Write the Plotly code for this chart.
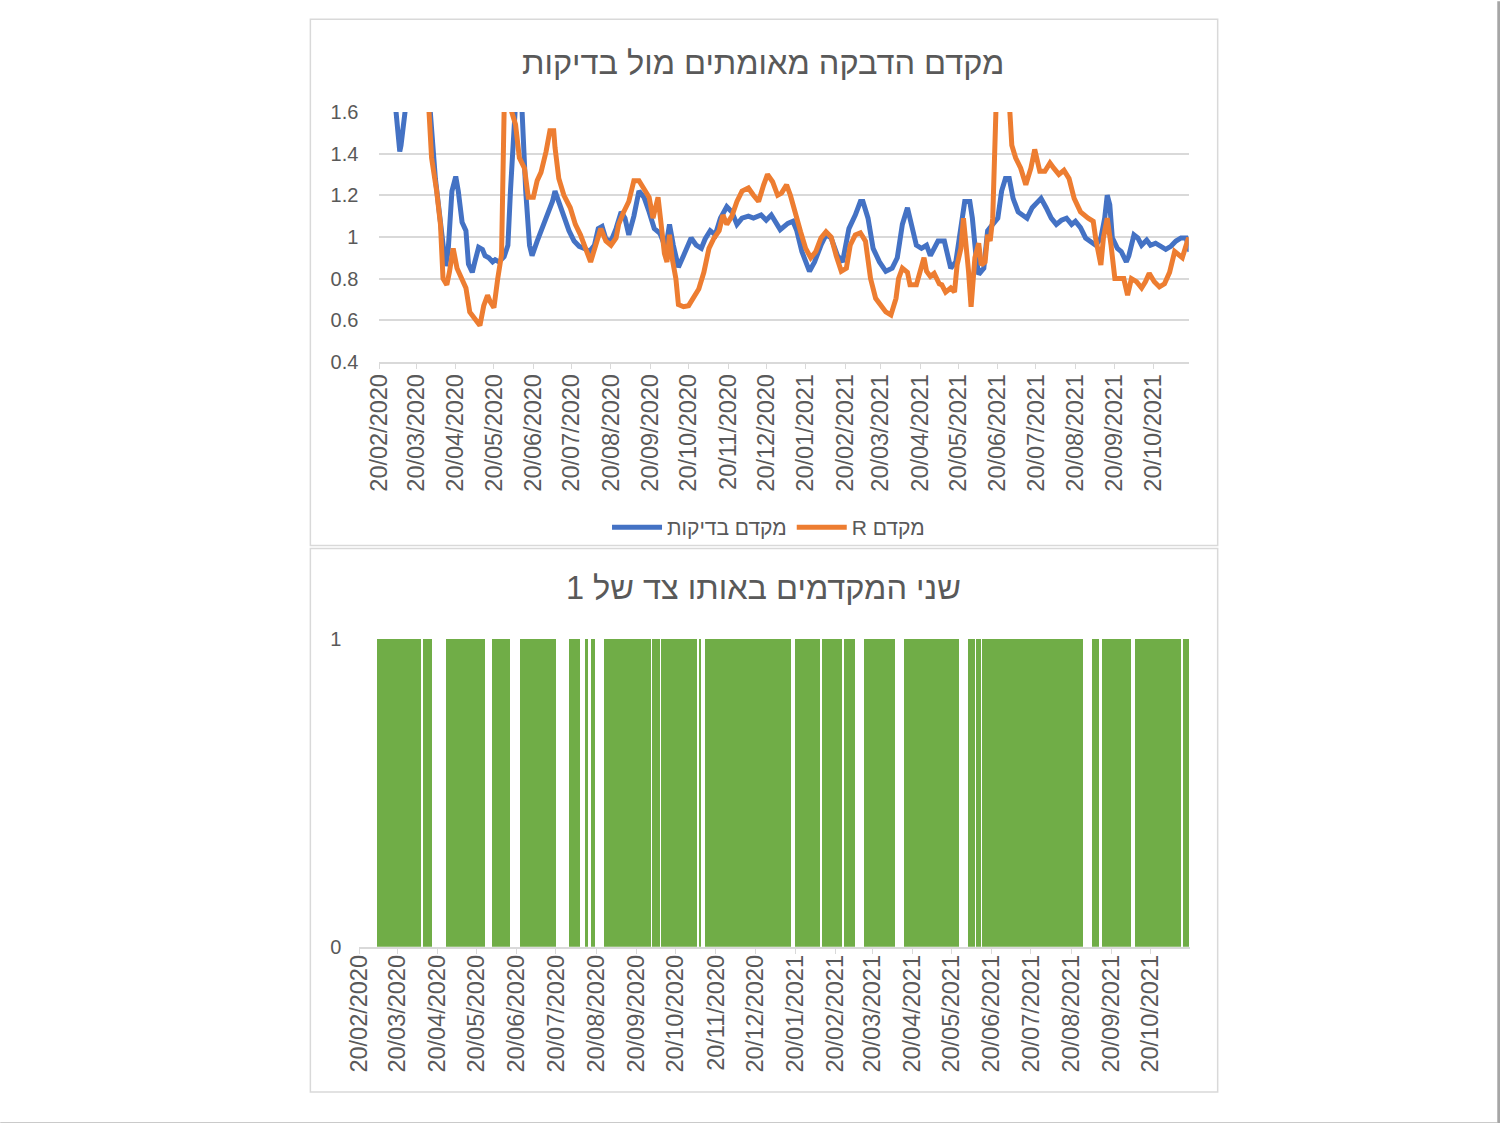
import plotly.graph_objects as go
from datetime import datetime

# ---------------- data ----------------
tests_dates = [
    "2020-03-01", "2020-03-03", "2020-03-07", "2020-03-08", "2020-03-11", "2020-03-14", "2020-03-21",
    "2020-03-27", "2020-03-31", "2020-04-04", "2020-04-08", "2020-04-12", "2020-04-14", "2020-04-17",
    "2020-04-20", "2020-04-22", "2020-04-25", "2020-04-28", "2020-04-30", "2020-05-03", "2020-05-05",
    "2020-05-08", "2020-05-11", "2020-05-13", "2020-05-16", "2020-05-19", "2020-05-21", "2020-05-24",
    "2020-05-28", "2020-05-31", "2020-06-02", "2020-06-05", "2020-06-08", "2020-06-11", "2020-06-14",
    "2020-06-17", "2020-06-19", "2020-06-23", "2020-06-27", "2020-07-01", "2020-07-05", "2020-07-07",
    "2020-07-10", "2020-07-14", "2020-07-18", "2020-07-22", "2020-07-26", "2020-07-30", "2020-08-03",
    "2020-08-07", "2020-08-10", "2020-08-13", "2020-08-16", "2020-08-20", "2020-08-24", "2020-08-28",
    "2020-08-31", "2020-09-03", "2020-09-07", "2020-09-11", "2020-09-15", "2020-09-19", "2020-09-23",
    "2020-09-27", "2020-09-28", "2020-10-02", "2020-10-05", "2020-10-08", "2020-10-12", "2020-10-16",
    "2020-10-22", "2020-10-26", "2020-10-30", "2020-11-02", "2020-11-06", "2020-11-10", "2020-11-14",
    "2020-11-19", "2020-11-23", "2020-11-27", "2020-12-01", "2020-12-06", "2020-12-10", "2020-12-16",
    "2020-12-20", "2020-12-24", "2020-12-28", "2020-12-31", "2021-01-06", "2021-01-10", "2021-01-13",
    "2021-01-17", "2021-01-23", "2021-01-27", "2021-02-01", "2021-02-05", "2021-02-09", "2021-02-14",
    "2021-02-18", "2021-02-23", "2021-02-28", "2021-03-04", "2021-03-06", "2021-03-10", "2021-03-14",
    "2021-03-19", "2021-03-24", "2021-03-29", "2021-04-02", "2021-04-06", "2021-04-10", "2021-04-12",
    "2021-04-17", "2021-04-21", "2021-04-25", "2021-04-28", "2021-05-04", "2021-05-09", "2021-05-14",
    "2021-05-18", "2021-05-22", "2021-05-25", "2021-05-29", "2021-05-31", "2021-06-03", "2021-06-05",
    "2021-06-09", "2021-06-12", "2021-06-16", "2021-06-20", "2021-06-23", "2021-06-26", "2021-06-29",
    "2021-07-02", "2021-07-06", "2021-07-10", "2021-07-13", "2021-07-17", "2021-07-21", "2021-07-24",
    "2021-07-28", "2021-08-01", "2021-08-05", "2021-08-09", "2021-08-13", "2021-08-17", "2021-08-20",
    "2021-08-24", "2021-08-28", "2021-09-01", "2021-09-05", "2021-09-09", "2021-09-12", "2021-09-14",
    "2021-09-16", "2021-09-18", "2021-09-22", "2021-09-25", "2021-09-29", "2021-10-01", "2021-10-05",
    "2021-10-08", "2021-10-11", "2021-10-15", "2021-10-18", "2021-10-22", "2021-10-26", "2021-10-30",
    "2021-11-03", "2021-11-07", "2021-11-11", "2021-11-15", "2021-11-18",
]
tests_values = [
    1.80, 1.66, 1.41, 1.44, 1.62, 1.95, 2.10,
    1.85, 1.60, 1.28, 1.09, 0.86, 0.93, 1.22,
    1.29, 1.22, 1.07, 1.03, 0.87, 0.83, 0.88,
    0.95, 0.94, 0.91, 0.90, 0.88, 0.89, 0.88,
    0.905, 0.96, 1.22, 1.65, 1.85, 1.62, 1.22,
    0.96, 0.91, 0.98, 1.04, 1.11, 1.17, 1.22,
    1.17, 1.09, 1.03, 0.98, 0.955, 0.945, 0.93,
    0.96, 1.04, 1.05, 0.99, 0.98, 1.04, 1.12,
    1.09, 1.01, 1.10, 1.22, 1.19, 1.12, 1.04,
    1.02, 1.01, 0.945, 1.06, 0.96, 0.855, 0.91,
    0.995, 0.96, 0.945, 0.99, 1.03, 1.01, 1.09,
    1.145, 1.12, 1.06, 1.09, 1.10, 1.09, 1.105,
    1.08, 1.105, 1.065, 1.035, 1.065, 1.075, 1.03,
    0.93, 0.835, 0.88, 0.96, 1.01, 0.995, 0.91,
    0.88, 1.04, 1.105, 1.17, 1.17, 1.09, 0.945,
    0.88, 0.835, 0.85, 0.90, 1.06, 1.14, 1.09,
    0.96, 0.945, 0.96, 0.91, 0.98, 0.98, 0.85,
    0.88, 1.03, 1.17, 1.17, 1.09, 0.90, 0.82,
    0.85, 1.03, 1.06, 1.09, 1.22, 1.28, 1.28,
    1.185, 1.12, 1.105, 1.09, 1.14, 1.17, 1.185,
    1.14, 1.09, 1.06, 1.08, 1.09, 1.06, 1.075,
    1.045, 0.995, 0.98, 0.96, 0.995, 1.09, 1.20,
    1.155, 0.995, 0.945, 0.93, 0.88, 0.91, 1.01,
    0.995, 0.96, 0.985, 0.96, 0.97, 0.955, 0.94,
    0.955, 0.98, 0.995, 0.995, 0.93,
]

r_dates = [
    "2020-03-05", "2020-03-11", "2020-03-19", "2020-03-26", "2020-03-30", "2020-04-01", "2020-04-05",
    "2020-04-08", "2020-04-10", "2020-04-13", "2020-04-15", "2020-04-18", "2020-04-21", "2020-04-24",
    "2020-04-28", "2020-05-01", "2020-05-05", "2020-05-09", "2020-05-12", "2020-05-15", "2020-05-17",
    "2020-05-20", "2020-05-23", "2020-05-26", "2020-05-28", "2020-05-31", "2020-06-03", "2020-06-06",
    "2020-06-09", "2020-06-13", "2020-06-16", "2020-06-20", "2020-06-23", "2020-06-26", "2020-06-30",
    "2020-07-03", "2020-07-06", "2020-07-07", "2020-07-10", "2020-07-14", "2020-07-19", "2020-07-23",
    "2020-07-27", "2020-07-31", "2020-08-04", "2020-08-08", "2020-08-12", "2020-08-16", "2020-08-20",
    "2020-08-24", "2020-08-26", "2020-08-30", "2020-09-03", "2020-09-07", "2020-09-11", "2020-09-15",
    "2020-09-19", "2020-09-22", "2020-09-26", "2020-09-29", "2020-10-01", "2020-10-03", "2020-10-05",
    "2020-10-07", "2020-10-10", "2020-10-12", "2020-10-16", "2020-10-20", "2020-10-24", "2020-10-28",
    "2020-11-01", "2020-11-05", "2020-11-09", "2020-11-13", "2020-11-16", "2020-11-19", "2020-11-23",
    "2020-11-27", "2020-12-01", "2020-12-06", "2020-12-10", "2020-12-14", "2020-12-18", "2020-12-21",
    "2020-12-25", "2020-12-29", "2021-01-01", "2021-01-05", "2021-01-08", "2021-01-12", "2021-01-16",
    "2021-01-20", "2021-01-24", "2021-01-28", "2021-02-01", "2021-02-05", "2021-02-09", "2021-02-13",
    "2021-02-17", "2021-02-21", "2021-02-24", "2021-02-28", "2021-03-04", "2021-03-08", "2021-03-12",
    "2021-03-16", "2021-03-20", "2021-03-24", "2021-03-28", "2021-04-01", "2021-04-03", "2021-04-06",
    "2021-04-10", "2021-04-12", "2021-04-17", "2021-04-20", "2021-04-23", "2021-04-25", "2021-04-28",
    "2021-05-01", "2021-05-05", "2021-05-07", "2021-05-10", "2021-05-14", "2021-05-17", "2021-05-19",
    "2021-05-22", "2021-05-24", "2021-05-26", "2021-05-28", "2021-05-30", "2021-06-02", "2021-06-05",
    "2021-06-07", "2021-06-10", "2021-06-12", "2021-06-14", "2021-06-16", "2021-06-19", "2021-06-24",
    "2021-06-29", "2021-07-01", "2021-07-04", "2021-07-08", "2021-07-12", "2021-07-16", "2021-07-19",
    "2021-07-23", "2021-07-27", "2021-07-31", "2021-08-03", "2021-08-07", "2021-08-11", "2021-08-15",
    "2021-08-19", "2021-08-24", "2021-08-30", "2021-09-03", "2021-09-05", "2021-09-09", "2021-09-11",
    "2021-09-14", "2021-09-17", "2021-09-20", "2021-09-24", "2021-09-27", "2021-09-30", "2021-10-03",
    "2021-10-07", "2021-10-11", "2021-10-14", "2021-10-17", "2021-10-21", "2021-10-25", "2021-10-29",
    "2021-11-02", "2021-11-06", "2021-11-09", "2021-11-12", "2021-11-16", "2021-11-17", "2021-11-18",
]
r_values = [
    2.40, 2.60, 2.20, 1.85, 1.60, 1.38, 1.22,
    1.06, 0.80, 0.77, 0.83, 0.945, 0.85, 0.81,
    0.755, 0.64, 0.61, 0.575, 0.67, 0.72, 0.69,
    0.66, 0.80, 0.915, 1.60, 1.85, 1.60, 1.54,
    1.38, 1.33, 1.19, 1.19, 1.27, 1.31, 1.41,
    1.51, 1.51, 1.43, 1.28, 1.20, 1.14, 1.06,
    1.01, 0.945, 0.88, 0.96, 1.04, 0.98, 0.96,
    0.995, 1.06, 1.12, 1.17, 1.27, 1.27, 1.23,
    1.19, 1.09, 1.19, 1.03, 0.92, 0.88, 1.01,
    0.90, 0.80, 0.675, 0.665, 0.67, 0.705, 0.75,
    0.83, 0.945, 0.995, 1.03, 1.105, 1.06, 1.10,
    1.17, 1.22, 1.235, 1.20, 1.17, 1.25, 1.30,
    1.265, 1.20, 1.21, 1.25, 1.20, 1.105, 1.025,
    0.945, 0.90, 0.93, 0.995, 1.025, 1.00, 0.91,
    0.835, 0.85, 0.96, 1.01, 1.02, 0.98, 0.80,
    0.705, 0.67, 0.64, 0.625, 0.705, 0.80, 0.85,
    0.83, 0.77, 0.77, 0.83, 0.90, 0.835, 0.81,
    0.825, 0.775, 0.77, 0.735, 0.755, 0.735, 0.865,
    0.945, 1.09, 0.98, 0.835, 0.665, 0.90, 0.97,
    0.865, 0.88, 1.01, 0.98, 1.09, 1.70, 2.00,
    1.65, 1.44, 1.38, 1.33, 1.25, 1.33, 1.42,
    1.315, 1.315, 1.355, 1.33, 1.30, 1.32, 1.28,
    1.185, 1.12, 1.09, 1.075, 0.99, 0.865, 0.995,
    1.09, 0.96, 0.80, 0.80, 0.80, 0.72, 0.80,
    0.785, 0.755, 0.785, 0.825, 0.785, 0.76, 0.775,
    0.83, 0.93, 0.915, 0.90, 0.98, 0.995, 0.96,
]

# periods in which both coefficients are on the same side of 1 (value 1), [start, end)
same_side_start = [
    "2020-03-05", "2020-04-09", "2020-04-27", "2020-06-01", "2020-06-23", "2020-07-30", "2020-08-12",
    "2020-08-16", "2020-08-26", "2020-10-02", "2020-10-09", "2020-11-07", "2020-11-12", "2021-01-20",
    "2021-02-10", "2021-02-27", "2021-03-14", "2021-04-14", "2021-06-02", "2021-06-08", "2021-06-13",
    "2021-09-05", "2021-09-13", "2021-10-08", "2021-11-14",
]
same_side_end = [
    "2020-04-08", "2020-04-16", "2020-05-27", "2020-06-15", "2020-07-20", "2020-08-08", "2020-08-14",
    "2020-08-19", "2020-10-01", "2020-10-08", "2020-11-06", "2020-11-09", "2021-01-17", "2021-02-08",
    "2021-02-25", "2021-03-07", "2021-04-07", "2021-05-26", "2021-06-07", "2021-06-12", "2021-08-29",
    "2021-09-11", "2021-10-05", "2021-11-13", "2021-11-19",
]
same_side_value = [1, 1, 1, 1, 1, 1, 1, 1, 1, 1, 1, 1, 1, 1, 1, 1, 1, 1, 1, 1, 1, 1, 1, 1, 1]

title_top = "מקדם הדבקה מאומתים מול בדיקות"
title_bottom = "שני המקדמים באותו צד של 1"
name_tests = "מקדם בדיקות"
name_r = "R מקדם"

# ---------------- styling ----------------
# Positions below are given in pixels of the final 1500x1123 picture and are
# mapped into figure coordinates (page margin + capture scaling compensated).
PAGE_MARGIN = 8
SX, CX = 0.991, 4.8
SY, CY = 0.98, 2.0
W, H = 1500, 1140
GRID = "#d9d9d9"
TXT = "#595959"
FONT = "Liberation Sans, Arial, sans-serif"


def px_x(x):
    return ((x - CX) / SX - PAGE_MARGIN) / W


def px_y(y):
    return 1 - ((y - CY) / SY - PAGE_MARGIN) / H


widths = [
    (datetime.fromisoformat(e) - datetime.fromisoformat(s)).total_seconds() * 1000
    for s, e in zip(same_side_start, same_side_end)
]

fig = go.Figure()
fig.add_trace(go.Scatter(
    x=tests_dates, y=tests_values, mode="lines", name=name_tests,
    line=dict(color="#4472C4", width=5), xaxis="x", yaxis="y",
))
fig.add_trace(go.Scatter(
    x=r_dates, y=r_values, mode="lines", name=name_r,
    line=dict(color="#ED7D31", width=5), xaxis="x", yaxis="y",
))
fig.add_trace(go.Bar(
    x=same_side_start, y=same_side_value, width=widths, offset=0,
    marker=dict(color="#70AD47", line=dict(width=0)),
    xaxis="x2", yaxis="y2", showlegend=False,
))

xcommon = dict(
    type="date", tick0="2020-02-20", dtick="M1", tickformat="%d/%m/%Y", tickangle=-90,
    ticks="outside", ticklen=5, tickcolor=GRID, tickwidth=1.3,
    showline=True, linecolor=GRID, linewidth=1.5, showgrid=False, zeroline=False,
    tickfont=dict(size=23.5, color=TXT, family=FONT),
)

fig.update_layout(
    width=W, height=H, margin=dict(l=0, r=0, t=0, b=0),
    paper_bgcolor="white", plot_bgcolor="white",
    font=dict(family=FONT, color=TXT),
    bargap=0,
    showlegend=True,
    legend=dict(
        orientation="h", x=px_x(768), y=px_y(526), xanchor="center", yanchor="middle",
        font=dict(size=21, color=TXT, family=FONT), bgcolor="rgba(0,0,0,0)",
        itemwidth=50,
    ),
    xaxis=dict(domain=[px_x(379), px_x(1188)], anchor="y", ticklabelstandoff=-4,
               range=["2020-02-20", "2021-11-17"], **xcommon),
    yaxis=dict(
        domain=[px_y(360.5), px_y(110.7)], anchor="x", range=[0.4, 1.6], dtick=0.2, tick0=0.4,
        showgrid=True, gridcolor=GRID, gridwidth=1.5, showline=False, zeroline=False,
        ticks="", tickfont=dict(size=20, color=TXT, family=FONT), ticklabelstandoff=20,
    ),
    xaxis2=dict(domain=[px_x(359), px_x(1189)], anchor="y2", ticklabelstandoff=-8,
                range=["2020-02-20", "2021-11-19"], **xcommon),
    yaxis2=dict(
        domain=[px_y(945), px_y(637)], anchor="x2", range=[0, 1], tickvals=[0, 1],
        showgrid=True, gridcolor=GRID, gridwidth=1.5, showline=False, zeroline=False,
        ticks="", tickfont=dict(size=20, color=TXT, family=FONT), ticklabelstandoff=17,
    ),
    annotations=[
        dict(text=title_top, x=px_x(762), y=px_y(62), xref="paper", yref="paper",
             showarrow=False, xanchor="center", yanchor="middle",
             font=dict(size=32.5, color=TXT, family=FONT)),
        dict(text=title_bottom, x=px_x(763), y=px_y(586), xref="paper", yref="paper",
             showarrow=False, xanchor="center", yanchor="middle",
             font=dict(size=32.5, color=TXT, family=FONT)),
    ],
    shapes=[
        dict(type="rect", xref="paper", yref="paper", x0=px_x(310), x1=px_x(1217),
             y0=px_y(544), y1=px_y(18), line=dict(color=GRID, width=1.5), layer="below"),
        dict(type="rect", xref="paper", yref="paper", x0=px_x(310), x1=px_x(1217),
             y0=px_y(1090), y1=px_y(547), line=dict(color=GRID, width=1.5), layer="below"),
        dict(type="rect", xref="paper", yref="paper", x0=px_x(1496.5), x1=px_x(1503),
             y0=px_y(1123), y1=px_y(0), line=dict(width=0), fillcolor="#a6a6a6"),
        dict(type="rect", xref="paper", yref="paper", x0=px_x(0), x1=px_x(1497),
             y0=px_y(1123), y1=px_y(1120.3), line=dict(width=0), fillcolor="#b8b8b8"),
    ],
)

fig.write_html("out.html")
